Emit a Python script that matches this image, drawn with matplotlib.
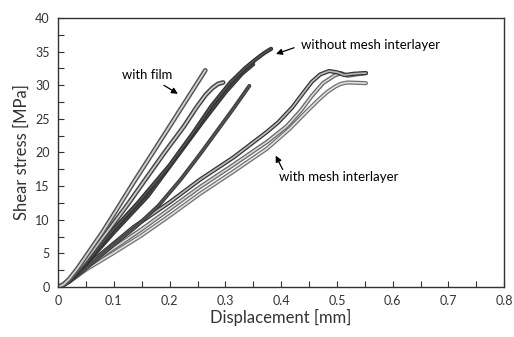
import matplotlib
matplotlib.use("Agg")
import matplotlib.pyplot as plt
from matplotlib.ticker import MultipleLocator

plt.rcParams["font.family"] = ["Lato", "DejaVu Sans"]

# curves (displacement mm, shear stress MPa)
film_a_x = [0, 0.01, 0.02, 0.035, 0.05, 0.08, 0.105, 0.135, 0.17, 0.204, 0.234, 0.264]
film_a_y = [0, 0.4, 1.2, 2.8, 4.6, 8.2, 11.5, 15.5, 20.0, 24.4, 28.3, 32.2]
film_b_x = [0, 0.01, 0.02, 0.035, 0.05, 0.09, 0.125, 0.16, 0.19, 0.225, 0.249,
            0.265, 0.277, 0.287, 0.296]
film_b_y = [0, 0.4, 1.1, 2.5, 4.0, 8.4, 12.3, 16.4, 19.9, 23.8, 26.8,
            28.6, 29.6, 30.2, 30.4]

nomesh_a_x = [0, 0.01, 0.02, 0.035, 0.05, 0.1, 0.144, 0.2, 0.243, 0.275, 0.309,
              0.335, 0.354, 0.37, 0.382]
nomesh_a_y = [0, 0.35, 1.0, 2.2, 3.6, 8.6, 12.6, 18.1, 23.0, 26.9, 30.4,
              32.5, 33.8, 34.8, 35.4]
nomesh_b_x = [0, 0.01, 0.02, 0.035, 0.05, 0.1, 0.161, 0.21, 0.26, 0.3, 0.33, 0.35]
nomesh_b_y = [0, 0.35, 0.9, 2.1, 3.4, 8.1, 13.5, 19.0, 24.6, 28.9, 31.7, 33.1]
nomesh_c_x = [0, 0.01, 0.02, 0.04, 0.06, 0.1, 0.14, 0.18, 0.22, 0.255, 0.285, 0.315, 0.343]
nomesh_c_y = [0, 0.3, 0.8, 2.1, 3.5, 6.3, 9.0, 12.1, 16.0, 19.8, 23.2, 26.6, 29.9]

mesh_a_x = [0, 0.01, 0.02, 0.035, 0.05, 0.1, 0.135, 0.2, 0.255, 0.315, 0.375,
            0.395, 0.42, 0.441, 0.455, 0.47, 0.486, 0.501, 0.513, 0.531, 0.552]
mesh_a_y = [0, 0.35, 0.9, 2.0, 3.1, 6.5, 8.9, 12.6, 16.0, 19.3, 23.1,
            24.5, 26.7, 29.0, 30.5, 31.6, 32.1, 31.9, 31.5, 31.7, 31.8]
mesh_b_x = [0, 0.01, 0.02, 0.035, 0.05, 0.1, 0.15, 0.2, 0.255, 0.315, 0.375,
            0.41, 0.435, 0.455, 0.475, 0.495, 0.507, 0.519, 0.535, 0.552]
mesh_b_y = [0, 0.35, 0.9, 1.9, 2.9, 5.8, 8.6, 11.6, 14.9, 18.2, 21.6,
            23.9, 26.2, 28.4, 30.3, 31.4, 31.8, 31.4, 31.6, 31.8]
mesh_c_x = [0, 0.01, 0.02, 0.035, 0.05, 0.1, 0.15, 0.2, 0.255, 0.315, 0.375,
            0.415, 0.447, 0.468, 0.483, 0.497, 0.507, 0.519, 0.552]
mesh_c_y = [0, 0.3, 0.8, 1.7, 2.6, 5.1, 7.7, 10.6, 13.9, 17.2, 20.6,
            23.5, 26.2, 27.9, 29.0, 29.8, 30.2, 30.4, 30.3]

fig = plt.figure(figsize=(5.14, 3.37), dpi=100)
ax = fig.add_axes([0.113, 0.148, 0.868, 0.799])


def hollow(x, y, edge, inner, lw=3.0, lw_in=1.2):
    # outlined look of the densely marked curves
    ax.plot(x, y, color=edge, linewidth=lw, solid_capstyle="round", solid_joinstyle="round")
    ax.plot(x, y, color=inner, linewidth=lw_in, solid_capstyle="round", solid_joinstyle="round")


hollow(mesh_c_x, mesh_c_y, "#707070", "#e0e0e0")
hollow(mesh_b_x, mesh_b_y, "#666666", "#d8d8d8")
hollow(mesh_a_x, mesh_a_y, "#333333", "#bbbbbb")
hollow(nomesh_c_x, nomesh_c_y, "#404040", "#555555", lw=2.8, lw_in=1.0)
hollow(nomesh_b_x, nomesh_b_y, "#333333", "#4a4a4a", lw=2.8, lw_in=1.0)
hollow(nomesh_a_x, nomesh_a_y, "#333333", "#555555", lw=3.0, lw_in=1.0)
hollow(film_b_x, film_b_y, "#444444", "#c8c8c8", lw=3.4, lw_in=1.3)
hollow(film_a_x, film_a_y, "#555555", "#d0d0d0", lw=3.4, lw_in=1.3)

ax.set_xlim(0, 0.8)
ax.set_ylim(0, 40)
ax.xaxis.set_major_locator(MultipleLocator(0.1))
ax.xaxis.set_minor_locator(MultipleLocator(0.05))
ax.yaxis.set_major_locator(MultipleLocator(5))
ax.yaxis.set_minor_locator(MultipleLocator(2.5))
ax.xaxis.set_major_formatter(matplotlib.ticker.FuncFormatter(lambda v, p: f"{v:g}"))
ax.tick_params(which="both", direction="in", length=4, width=0.8, color="#333333",
               labelsize=9, labelcolor="#333333", pad=6)
for s in ax.spines.values():
    s.set_linewidth(1.0)
    s.set_color("#333333")

ax.set_xlabel("Displacement [mm]", fontsize=12, color="#333333", labelpad=1)
ax.set_ylabel("Shear stress [MPa]", fontsize=12, color="#333333", labelpad=4)

arrow = dict(arrowstyle="-|>", color="black", lw=0.9, mutation_scale=9)
ax.annotate("with film", xy=(0.219, 28.5), xytext=(0.16, 31.5), fontsize=9.4,
            ha="center", va="center", arrowprops=arrow)
ax.annotate("", xy=(0.386, 34.5), xytext=(0.428, 35.7), arrowprops=arrow)
ax.text(0.435, 36.0, "without mesh interlayer", fontsize=9.5, ha="left", va="center")
ax.annotate("", xy=(0.388, 19.9), xytext=(0.405, 17.1), arrowprops=arrow)
ax.text(0.397, 16.4, "with mesh interlayer", fontsize=9.5, ha="left", va="center")

fig.savefig("out.png", dpi=100)
